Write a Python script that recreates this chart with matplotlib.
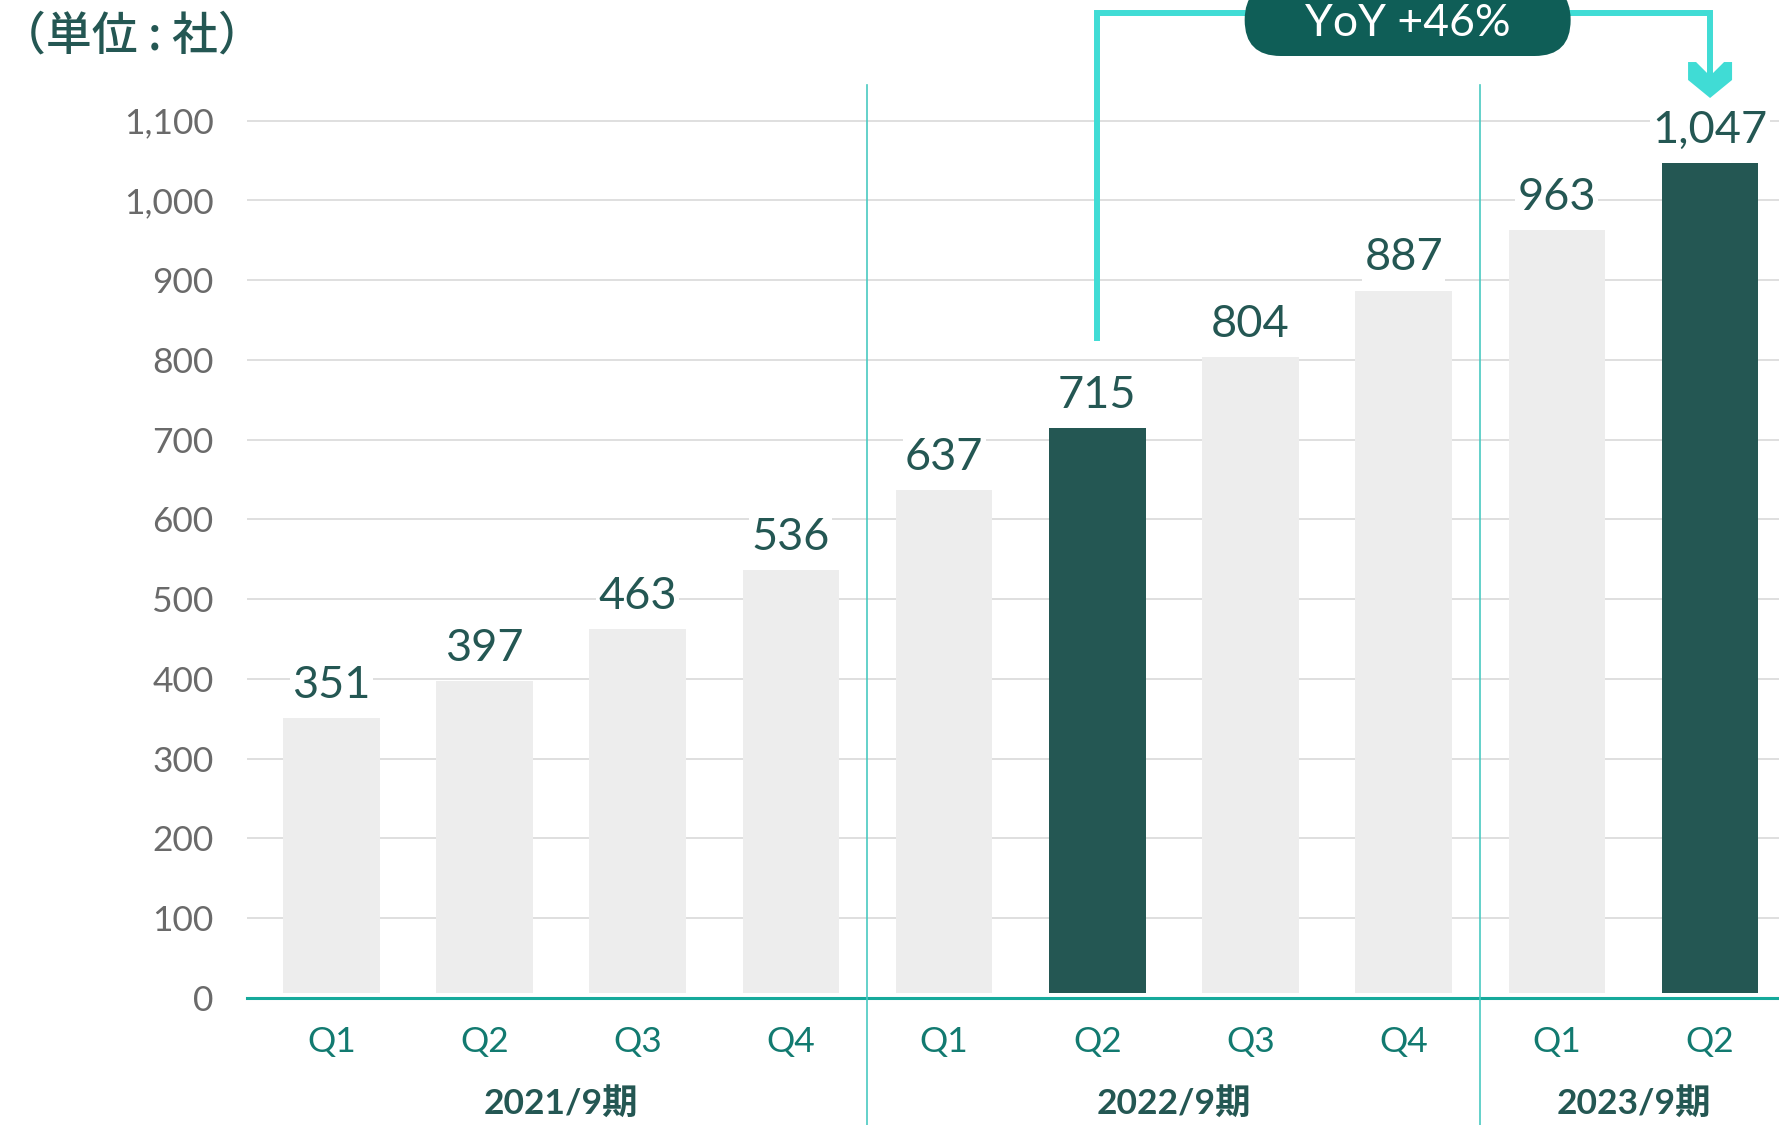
import matplotlib
matplotlib.use('Agg')
import matplotlib.pyplot as plt
import numpy as np
from matplotlib.patches import FancyBboxPatch, Polygon
from matplotlib.transforms import IdentityTransform, blended_transform_factory

# ---------------- data ----------------
quarters = ['Q1', 'Q2', 'Q3', 'Q4', 'Q1', 'Q2', 'Q3', 'Q4', 'Q1', 'Q2']
fiscal_years = ['2021/9期', '2022/9期', '2023/9期']
fy_quarter_counts = [4, 4, 2]
values = [351, 397, 463, 536, 637, 715, 804, 887, 963, 1047]
highlight = [5, 9]          # YoY comparison bars
y_ticks = list(range(0, 1101, 100))
unit_label = '（単位 : 社）'

# ---------------- style ----------------
DARK = '#245753'
LIGHT = '#ededed'
TEAL_LINE = '#16a99b'
SEP = '#49c9c1'
BRACKET = '#40dcd5'
PILL = '#0f5e57'
Q_COLOR = '#127a70'
TICK_COLOR = '#6a6a6a'
GRID = '#dcdcdc'
LATIN = 'Lato'
CJK = 'Noto Sans CJK JP'

W, H = 1779, 1125
fig = plt.figure(figsize=(W / 100, H / 100), dpi=100)
ax = fig.add_axes([247 / W, 127 / H, 1 - 247 / W, 913 / H])
x = np.arange(len(values))
ax.set_xlim(-0.55, 9.45)
ax.set_ylim(0, 1144.7)

gap = 6
colors = [DARK if i in highlight else LIGHT for i in x]
ax.bar(x, np.array(values) - gap, bottom=gap, width=0.63, color=colors, zorder=2)

ax.set_yticks(y_ticks)
ax.set_yticklabels([f'{t:,}' for t in y_ticks], fontsize=25.5, color=TICK_COLOR, family=LATIN)
ax.tick_params(axis='y', length=0, pad=24)
ax.set_xticks([])
ax.yaxis.grid(True, color=GRID, lw=1.3, zorder=0)
ax.set_axisbelow(True)
for s in ax.spines.values():
    s.set_visible(False)

ax.axhline(0, color=TEAL_LINE, lw=2.2, zorder=3, clip_on=False)

trans = blended_transform_factory(ax.transData, ax.transAxes)
bounds = np.cumsum(fy_quarter_counts)[:-1] - 0.5
for b in bounds:
    ax.plot([b, b], [-0.2, 1.0], transform=trans, color=SEP, lw=1.2, clip_on=False, zorder=3)

for i, q in enumerate(quarters):
    ax.text(i, -0.048, q, transform=trans, ha='center', va='center', fontsize=25.5,
            color=Q_COLOR, family=LATIN)

starts = np.concatenate([[0], np.cumsum(fy_quarter_counts)[:-1]])
for s0, n, fy in zip(starts, fy_quarter_counts, fiscal_years):
    ax.text(s0 + (n - 1) / 2, -0.115, fy, transform=trans, ha='center', va='center',
            fontsize=25.5, fontweight='bold', color=DARK, family=[LATIN, CJK])

for i, v in enumerate(values):
    ax.annotate(f'{v:,}', (i, v), xytext=(0, 14.5), textcoords='offset points',
                ha='center', va='baseline', fontsize=32.5, color=DARK, family=LATIN,
                bbox=dict(fc='white', ec='none', pad=1.5), zorder=3)

# YoY bracket
i0, i1 = highlight
y_start, y_top, y_notch = 828, 1235, 1156
ax.plot([i0, i0, i1, i1], [y_start, y_top, y_top, y_notch], color=BRACKET, lw=4.3,
        clip_on=False, solid_joinstyle='miter', zorder=4)
hw, iw = 0.1436, 0.0914
arrow = Polygon([(i1 - hw, 1173.5), (i1 - hw, 1151), (i1, 1128.4), (i1 + hw, 1151),
                 (i1 + hw, 1173.5), (i1 + iw, 1173.5), (i1, y_notch), (i1 - iw, 1173.5)],
                closed=True, fc=BRACKET, ec='none', clip_on=False, zorder=4)
ax.add_patch(arrow)

pct = round((values[i1] / values[i0] - 1) * 100)
px, _ = ax.transData.transform(((i0 + i1) / 2, y_top))
px += 4
py = H - 20
pill = FancyBboxPatch((px - 163, py - 36), 326, 72,
                      boxstyle='round,pad=0,rounding_size=36',
                      transform=IdentityTransform(), fc=PILL, ec='none', zorder=5)
fig.add_artist(pill)
fig.text(px, py, f'YoY +{pct}%', transform=IdentityTransform(), ha='center',
         va='center_baseline', color='white', fontsize=32, family=LATIN, zorder=6)

fig.text(0.0, 1 - 36 / H, unit_label, ha='left', va='center', fontsize=33,
         color=DARK, family=[CJK, 'DejaVu Sans'], fontweight='medium')

fig.savefig('out.png', dpi=100)
